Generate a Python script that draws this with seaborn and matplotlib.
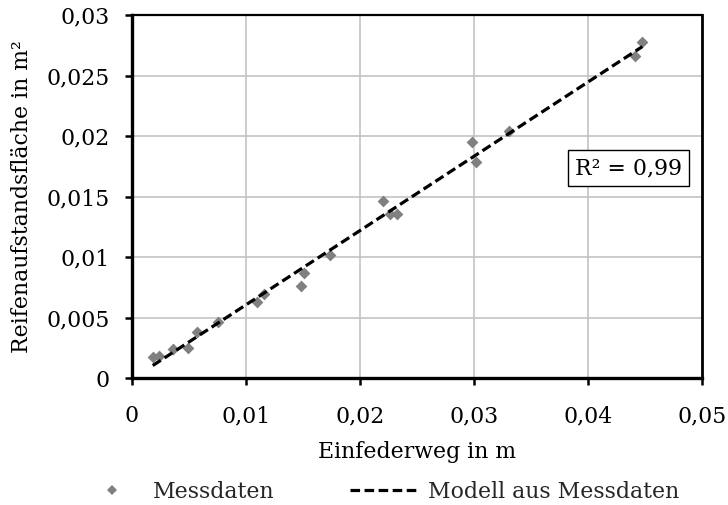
import numpy as np
import pandas as pd
import matplotlib
matplotlib.use("Agg")
import matplotlib.pyplot as plt
import seaborn as sns
from matplotlib.lines import Line2D
from matplotlib.ticker import FixedLocator, FuncFormatter

# Measured spring travel (m) and tyre contact area (m^2)
einfederweg = [0.00182, 0.0024, 0.00357, 0.0049, 0.00573, 0.00751, 0.01093,
               0.01158, 0.01485, 0.01506, 0.01737, 0.02205, 0.02263, 0.02322,
               0.02985, 0.03015, 0.03307, 0.04415, 0.04477]
aufstandsflaeche = [0.00174, 0.00184, 0.0024, 0.00253, 0.00382, 0.00465, 0.00628,
                    0.00696, 0.00762, 0.00872, 0.01019, 0.01467, 0.01357, 0.01357,
                    0.01954, 0.01789, 0.02045, 0.02665, 0.02781]
r_squared = 0.99

x_ticks = [0, 0.01, 0.02, 0.03, 0.04, 0.05]
y_ticks = [0, 0.005, 0.01, 0.015, 0.02, 0.025, 0.03]

sns.set_theme(style="whitegrid")
plt.rcParams["font.family"] = ["DejaVu Serif"]
plt.rcParams["mathtext.fontset"] = "dejavuserif"

FS = 15.8
GRAY = "#808080"
DASH = (0, (3.0, 1.4))

df = pd.DataFrame({"x": einfederweg, "y": aufstandsflaeche})

# Linear model fitted to the measurements
slope, intercept = np.polyfit(df["x"], df["y"], 1)
x_fit = np.array([df["x"].min(), df["x"].max()])
fit = pd.DataFrame({"x": x_fit, "y": slope * x_fit + intercept})

fig = plt.figure(figsize=(7.28, 5.05), dpi=100)
ax = fig.add_axes([132 / 728, 1 - 378.3 / 505, 570 / 728, 363 / 505])

sns.scatterplot(data=df, x="x", y="y", ax=ax, marker="D", s=36, color=GRAY,
                edgecolor=GRAY, linewidth=0, zorder=3, legend=False)
sns.lineplot(data=fit, x="x", y="y", ax=ax, color="black", lw=2.3,
             linestyle=DASH, zorder=4, legend=False)

ax.set_xlim(x_ticks[0], x_ticks[-1])
ax.set_ylim(y_ticks[0], y_ticks[-1])
ax.xaxis.set_major_locator(FixedLocator(x_ticks))
ax.yaxis.set_major_locator(FixedLocator(y_ticks))


def komma(v, pos=None):
    if abs(v) < 1e-12:
        return "0"
    return f"{v:.3f}".rstrip("0").replace(".", ",")


ax.xaxis.set_major_formatter(FuncFormatter(komma))
ax.yaxis.set_major_formatter(FuncFormatter(komma))

ax.grid(True, color="#bfbfbf", lw=1.1)
ax.set_axisbelow(True)
ax.set_facecolor("white")
for side, lw in [("left", 2.4), ("bottom", 2.4), ("top", 1.6), ("right", 2.0)]:
    ax.spines[side].set_visible(True)
    ax.spines[side].set_color("black")
    ax.spines[side].set_linewidth(lw)

ax.xaxis.set_ticks_position("bottom")
ax.yaxis.set_ticks_position("left")
ax.tick_params(axis="both", which="major", direction="out", length=5,
               width=1.8, color="black", labelsize=FS, labelcolor="black")
ax.tick_params(axis="x", pad=14.5)
ax.tick_params(axis="y", pad=11)

ax.set_xlabel("Einfederweg in m", fontsize=FS, color="black")
ax.set_ylabel("Reifenaufstandsfläche in m²", fontsize=FS, color="black")
ax.xaxis.label.set_va("center")
ax.yaxis.label.set_va("center")
ax.xaxis.set_label_coords(0.5, (378.3 - 452) / 363)
ax.yaxis.set_label_coords((22 - 132) / 570, 0.5)

ax.text(0.04355, 0.01738, f"R² = {r_squared:.2f}".replace(".", ","),
        fontsize=FS, ha="center", va="center", color="black", zorder=5,
        bbox=dict(boxstyle="square,pad=0.3", fc="white", ec="black", lw=1.0))

h_mess = Line2D([], [], marker="D", ls="none", color=GRAY, markersize=5,
                markeredgewidth=0)
h_modell = Line2D([], [], color="black", lw=2.3, linestyle=DASH)

fig.legend(handles=[h_mess], labels=["Messdaten"], loc="center left",
           bbox_to_anchor=(101 / 728, 1 - 492 / 505), frameon=False,
           fontsize=FS, handlelength=1.0, handletextpad=1.35, borderpad=0,
           borderaxespad=0)
fig.legend(handles=[h_modell], labels=["Modell aus Messdaten"], loc="center left",
           bbox_to_anchor=(350 / 728, 1 - 492 / 505), frameon=False,
           fontsize=FS, handlelength=3.2, handletextpad=0.35, borderpad=0,
           borderaxespad=0)

fig.savefig("out.png", dpi=100, facecolor="white")
